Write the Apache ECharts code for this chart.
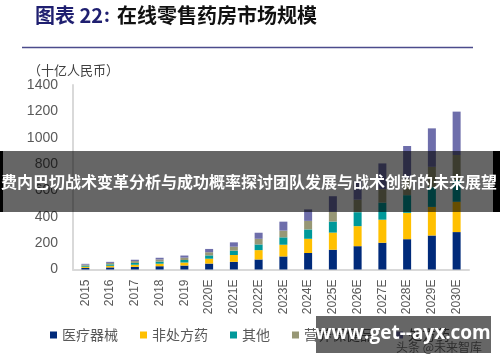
<!DOCTYPE html>
<html>
<head>
<meta charset="utf-8">
<script src="https://cdn.jsdelivr.net/npm/echarts@6/dist/echarts.min.js"></script>
<style>
html,body{margin:0;padding:0;background:#fff;}
#chart{width:500px;height:362px;}
</style>
</head>
<body>
<div id="chart"></div>
<script>
// ---- data ----
var categories = ['2015','2016','2017','2018','2019','2020E','2021E','2022E','2023E','2024E','2025E','2026E','2027E','2028E','2029E','2030E'];
var seriesNames = ['医疗器械','非处方药','其他','营养保健品','处方药'];
var medicalDevices = [12,16,20,25,30,45,58,76,99,125,150,177,203,230,258,284];
var otcDrugs       = [9,12,16,19,23,37,52,71,89,108,130,152,175,200,217,230];
var others         = [8,11,14,16,19,25,33,43,56,71,84,106,130,134,150,165];
var nutrition      = [8,11,14,16,18,24,30,43,51,65,74,95,102,127,154,190];
var rxDrugs        = [6,8,10,13,16,25,33,46,68,87,118,143,195,246,292,329];
var yTicks = [0,200,400,600,800,1000,1200,1400];

var colors = ['#002a7a','#ffc000','#00999a','#979775','#6e6eab'];
var values = [medicalDevices, otcDrugs, others, nutrition, rxDrugs];

var chart = echarts.init(document.getElementById('chart'), null, {renderer:'canvas'});
var cjk = '"Noto Sans CJK SC", sans-serif';

var series = seriesNames.map(function(n,i){
  return {
    name:n, type:'bar', stack:'total', barWidth:8,
    data: values[i],
    itemStyle:{color:colors[i]},
    emphasis:{disabled:true}
  };
});

chart.setOption({
  animation:false,
  color:colors,
  grid:{left:73, right:31, top:85, bottom:92.5, containLabel:false},
  legend:{
    data:seriesNames, left:45, top:323, icon:'rect', itemWidth:7, itemHeight:7, itemGap:22,
    textStyle:{color:'#595959', fontSize:14, fontFamily:cjk}
  },
  xAxis:{
    type:'category', data:categories,
    axisLine:{lineStyle:{color:'#d9d9d9', width:2}},
    axisTick:{show:false},
    axisLabel:{rotate:90, color:'#595959', fontSize:12, fontFamily:'"Liberation Sans", Arial, sans-serif', margin:10, interval:0}
  },
  yAxis:{
    type:'value', min:yTicks[0], max:yTicks[yTicks.length-1], interval:200,
    axisLine:{show:true, lineStyle:{color:'#d9d9d9', width:2}},
    axisTick:{show:false},
    splitLine:{show:false},
    axisLabel:{color:'#595959', fontSize:14, fontFamily:'"Liberation Sans", Arial, sans-serif', margin:15,
      formatter:function(v){return String(v);}}
  },
  series:series,
  graphic:[
    {type:'text', z:100, style:{text:'图表 22', x:35, y:15, fill:'#1f1f70', font:'bold 20px '+cjk, textVerticalAlign:'middle'}},
    {type:'text', z:100, style:{text:':', x:104, y:15, fill:'#1f1f70', font:'bold 18px '+cjk, textVerticalAlign:'middle'}},
    {type:'text', z:100, style:{text:'在线零售药房市场规模', x:117, y:15, fill:'#111', font:'bold 20px '+cjk, textVerticalAlign:'middle'}},
    {type:'line', z:100, shape:{x1:22, y1:47.5, x2:473, y2:47.5}, style:{stroke:'#4b4b8c', lineWidth:1.5}},
    {type:'text', z:100, style:{text:'（十亿人民币）', x:28, y:70, fill:'#404040', font:'13px '+cjk, textVerticalAlign:'middle'}},
    // banner overlay
    {type:'rect', z:200, shape:{x:0, y:151, width:500, height:61}, style:{fill:'rgba(0,0,0,0.6)'}},
    {type:'rect', z:201, shape:{x:0, y:151, width:3, height:61}, style:{fill:'#000'}},
    {type:'rect', z:201, shape:{x:493, y:151, width:7, height:61}, style:{fill:'#000'}},
    {type:'text', z:202, style:{text:'费内巴切战术变革分析与成功概率探讨团队发展与战术创新的未来展望', x:249, y:182, fill:'#fff', font:'bold 16px '+cjk, textAlign:'center', textVerticalAlign:'middle'}},
    // watermark
    {type:'rect', z:200, shape:{x:316, y:316, width:175, height:37}, style:{fill:'rgba(0,0,0,0.6)'}},
    {type:'text', z:202, style:{text:'头条 @未来智库', x:439, y:347, fill:'#2e2e2e', font:'12px '+cjk, textAlign:'center', textVerticalAlign:'middle'}},
    {type:'text', z:203, style:{text:'www.get--ayx.com', x:403, y:334, fill:'#fff', font:'bold 19px "Open Sans", "DejaVu Sans", sans-serif', textAlign:'center', textVerticalAlign:'middle'}}
  ]
});
</script>
</body>
</html>
